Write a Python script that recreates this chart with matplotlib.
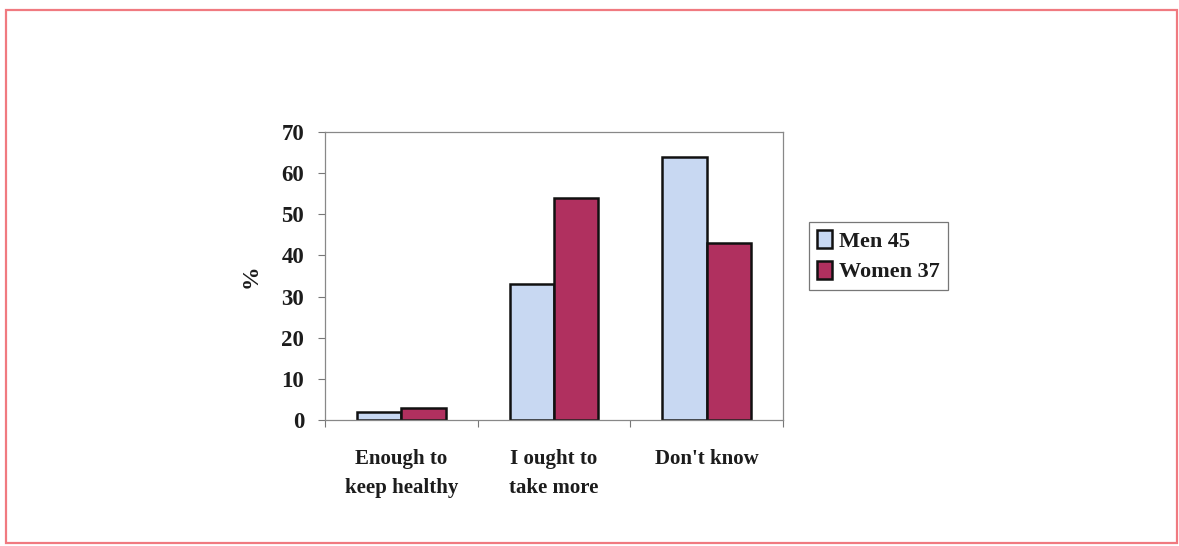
import numpy as np
import matplotlib
matplotlib.use("Agg")
import matplotlib.pyplot as plt
from matplotlib.patches import Rectangle

plt.rcParams['font.family'] = ['Liberation Serif', 'DejaVu Serif']
plt.rcParams['font.weight'] = 'bold'

categories = ["Enough to\nkeep healthy", "I ought to\ntake more", "Don't know"]
series_names = ["Men 45", "Women 37"]
men = [2, 33, 64]
women = [3, 54, 43]
yticks = [0, 10, 20, 30, 40, 50, 60, 70]

col_men = "#c8d8f2"
col_women = "#b0305f"
ink = "#1c1c1c"

fig = plt.figure(figsize=(11.79, 5.46), dpi=100)
fig.patch.set_facecolor("white")

# pale red frame around the whole figure
fig.patches.append(Rectangle((6 / 1179, 3 / 546), 1171 / 1179, 533 / 546,
                             transform=fig.transFigure, fill=False,
                             edgecolor="#f07a80", linewidth=1.6))

ax = fig.add_axes([0.2757, 0.2308, 0.3884, 0.5275])

x = np.arange(len(categories))
w = 0.29
ax.bar(x - w / 2, men, w, color=col_men, edgecolor="#111111", linewidth=1.8,
       label=series_names[0])
ax.bar(x + w / 2, women, w, color=col_women, edgecolor="#111111", linewidth=1.8,
       label=series_names[1])

ax.set_xlim(-0.5, len(categories) - 0.5)
ax.set_ylim(0, 70)
ax.set_yticks(yticks)
ax.set_yticklabels([str(t) for t in yticks], fontsize=16.5, color=ink)

# category ticks sit between the groups
ax.set_xticks(np.arange(len(categories) + 1) - 0.5)
ax.set_xticklabels([])
ax.set_xticks(x, minor=True)
ax.set_xticklabels(categories, minor=True, fontsize=15, color=ink,
                   linespacing=1.6)
ax.tick_params(axis='x', which='minor', length=0, pad=21)
ax.tick_params(axis='x', which='major', length=5, color="#777777", width=0.8)
ax.tick_params(axis='y', length=5, color="#777777", width=0.8, pad=10)

for s in ax.spines.values():
    s.set_color("#888888")
    s.set_linewidth(0.9)

ax.set_ylabel("%", fontsize=17, fontweight="bold", color=ink, labelpad=14)

leg = ax.legend(loc="center left", bbox_to_anchor=(1.057, 0.569),
                borderaxespad=0, fontsize=16, frameon=True, fancybox=False,
                handlelength=0.7, handleheight=0.9, handletextpad=0.3,
                borderpad=0.35, labelspacing=0.4)
leg.get_frame().set_edgecolor("#555555")
leg.get_frame().set_linewidth(0.9)
for t in leg.get_texts():
    t.set_color(ink)

fig.savefig("out.png", dpi=100, facecolor="white")
